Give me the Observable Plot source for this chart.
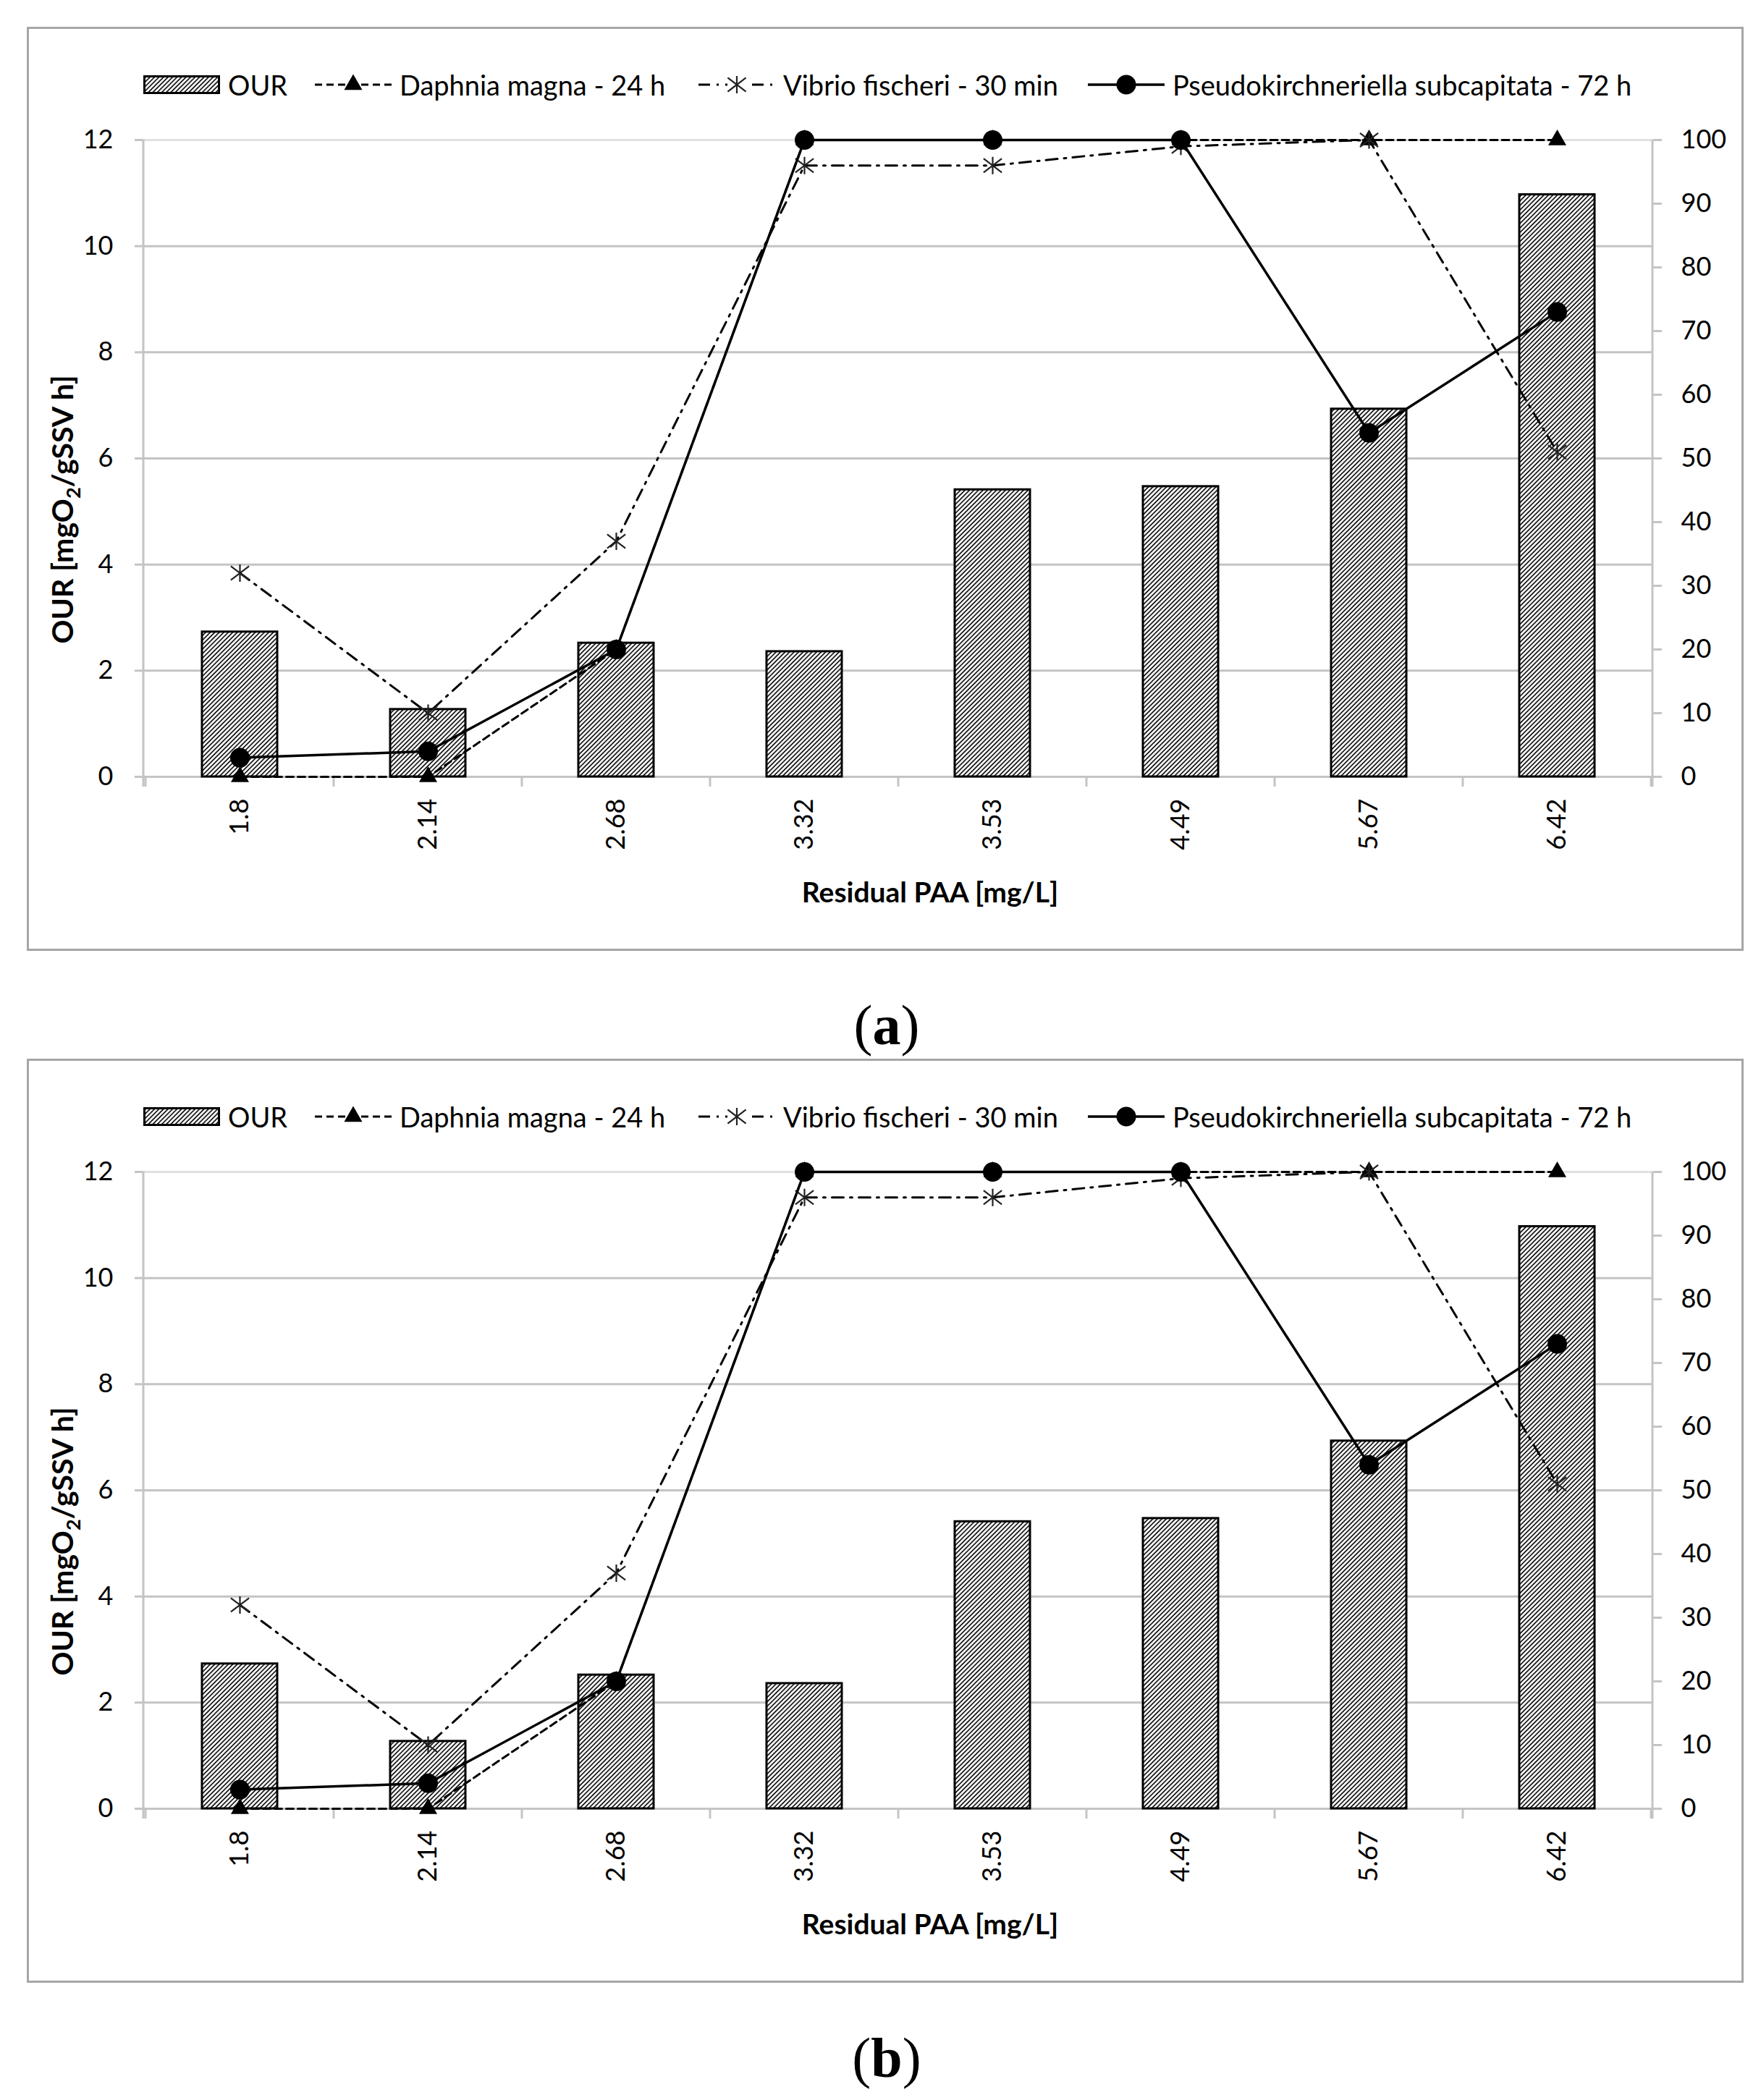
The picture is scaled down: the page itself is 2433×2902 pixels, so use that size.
<!DOCTYPE html>
<html>
<head>
<meta charset="utf-8">
<script src="https://cdn.jsdelivr.net/npm/d3@7"></script>
<script src="https://cdn.jsdelivr.net/npm/@observablehq/plot@0.6"></script>
<style>
html, body { margin: 0; padding: 0; background: #fff; }
body { width: 2433px; height: 2902px; position: relative; overflow: hidden; font-family: Lato, "Open Sans", sans-serif; color: #000; }
.panel { position: absolute; left: 37px; width: 2372px; height: 1277px; }
.frame { position: absolute; left: 0; top: 0; width: 2372px; height: 1277px; box-sizing: border-box; border: 3px solid #a6a6a6; pointer-events: none; }
.chart { position: absolute; left: 0; top: 0; }
.item { position: absolute; top: 60px; height: 40px; display: flex; align-items: center; font-size: 38px; white-space: nowrap; }
.item svg { flex: none; overflow: visible; }
.item span { margin-left: 11px; }
.ytitle { position: absolute; left: 52px; top: 667px; transform: translate(-50%, -50%) rotate(-90deg); font-weight: 700; font-size: 41px; white-space: nowrap; }
.ytitle sub { font-size: 27px; }
.xtitle { position: absolute; left: 1248px; top: 1195px; transform: translate(-50%, -50%); font-weight: 700; font-size: 39px; white-space: nowrap; }
.caption { position: absolute; left: 1225px; transform: translate(-50%, -50%); font-family: "Liberation Serif", "DejaVu Serif", serif; font-size: 78px; white-space: nowrap; }
</style>
</head>
<body>
<svg width="0" height="0" style="position:absolute">
  <defs>
    <pattern id="hatch" patternUnits="userSpaceOnUse" width="4.4" height="4.4" patternTransform="rotate(45)">
      <rect width="4.4" height="4.4" fill="#fff"></rect>
      <line x1="1" y1="0" x2="1" y2="4.4" stroke="#000" stroke-width="1.6"></line>
    </pattern>
  </defs>
</svg>
<script>
// ---- data ----
const categories = ["1.8", "2.14", "2.68", "3.32", "3.53", "4.49", "5.67", "6.42"];
const ourValues = [2.73, 1.27, 2.52, 2.36, 5.41, 5.47, 6.93, 10.97];
const daphnia = [0, 0, 20, 100, 100, 100, 100, 100];
const vibrio = [32, 10, 37, 96, 96, 99, 100, 51];
const pseudo = [3, 4, 20, 100, 100, 100, 54, 73];
const leftTicks = [0, 2, 4, 6, 8, 10, 12];
const rightTicks = [0, 10, 20, 30, 40, 50, 60, 70, 80, 90, 100];
const OUR_MAX = 12, PCT_MAX = 100;
const seriesNames = ["OUR", "Daphnia magna - 24 h", "Vibrio fischeri - 30 min", "Pseudokirchneriella subcapitata - 72 h"];
const panelLabels = ["a", "b"];

const pct = v => v * OUR_MAX / PCT_MAX;
const rows = categories.map((c, i) => ({cat: c, our: ourValues[i], daphnia: daphnia[i], vibrio: vibrio[i], pseudo: pseudo[i]}));

const asterisk = {
  draw(ctx, size) {
    const r = Math.sqrt(size / Math.PI), a = r * 1.05, b = r * 0.8;
    ctx.moveTo(0, -r); ctx.lineTo(0, r);
    ctx.moveTo(-a, -b); ctx.lineTo(a, b);
    ctx.moveTo(-a, b); ctx.lineTo(a, -b);
  }
};

const GRID = "#c4c4c4";

function axisLines(index, scales, values, dimensions) {
  const {x, y} = scales;
  const {width, marginLeft, marginRight} = dimensions;
  const step = x.step(), bw = x.bandwidth();
  const bounds = categories.map(c => x(c) - (step - bw) / 2);
  bounds.push(bounds[bounds.length - 1] + step);
  const g = d3.create("svg:g").attr("stroke", GRID).attr("stroke-width", 3);
  const y0 = y(0), yTop = y(OUR_MAX), tick = 14;
  for (const b of bounds) g.append("line").attr("x1", b).attr("x2", b).attr("y1", y0).attr("y2", y0 + tick);
  g.append("line").attr("x1", marginLeft).attr("x2", marginLeft).attr("y1", yTop).attr("y2", y0 + tick);
  g.append("line").attr("x1", width - marginRight).attr("x2", width - marginRight).attr("y1", yTop).attr("y2", y0 + tick);
  return g.node();
}

function makeChart() {
  return Plot.plot({
    width: 2372, height: 1277,
    marginLeft: 161, marginRight: 126, marginTop: 156, marginBottom: 241,
    style: {fontFamily: "Lato, 'Open Sans', sans-serif", fontSize: "35px", background: "transparent", color: "#000", overflow: "visible"},
    x: {domain: categories, paddingInner: 0.6, paddingOuter: 0.3, axis: null},
    y: {domain: [0, OUR_MAX], axis: null},
    marks: [
      Plot.ruleY(leftTicks.filter(d => d < OUR_MAX), {stroke: GRID, strokeWidth: 3}),
      Plot.ruleY([OUR_MAX], {stroke: "#e0e0e0", strokeWidth: 3}),
      Plot.barY(rows, {x: "cat", y: "our", fill: "url(#hatch)", stroke: "#000", strokeWidth: 3}),
      axisLines,
      Plot.axisY({anchor: "left", ticks: leftTicks, tickSize: 12, tickPadding: 30, stroke: GRID, strokeWidth: 3, fill: "#000", fontSize: 36, label: null}),
      Plot.axisY({anchor: "right", ticks: rightTicks.map(pct), tickFormat: d => String(Math.round(d * PCT_MAX / OUR_MAX)), tickSize: 12, tickPadding: 27, stroke: GRID, strokeWidth: 3, fill: "#000", fontSize: 36, label: null}),
      Plot.axisX({anchor: "bottom", tickSize: 0, tickRotate: -90, tickPadding: 30, fill: "#000", fontSize: 36, label: null}),
      Plot.line(rows, {x: "cat", y: d => pct(d.daphnia), stroke: "#000", strokeWidth: 3, strokeDasharray: "10,6"}),
      Plot.dot(rows, {x: "cat", y: d => pct(d.daphnia), symbol: "triangle", r: 9.3, fill: "#000"}),
      Plot.line(rows, {x: "cat", y: d => pct(d.vibrio), stroke: "#000", strokeWidth: 3, strokeDasharray: "16,9,3,9"}),
      Plot.dot(rows, {x: "cat", y: d => pct(d.vibrio), symbol: asterisk, r: 12, stroke: "#222", strokeWidth: 2.2, fill: "none"}),
      Plot.line(rows, {x: "cat", y: d => pct(d.pseudo), stroke: "#000", strokeWidth: 3.5}),
      Plot.dot(rows, {x: "cat", y: d => pct(d.pseudo), r: 13.5, fill: "#000"})
    ]
  });
}

function legendSymbol(kind) {
  const svg = d3.create("svg").attr("width", 106).attr("height", 30);
  const cy = 15;
  if (kind === 0) {
    svg.append("rect").attr("x", 1.5).attr("y", 3.5).attr("width", 103).attr("height", 23)
      .attr("fill", "url(#hatch)").attr("stroke", "#000").attr("stroke-width", 3);
    return svg.node();
  }
  const dash = kind === 1 ? "10,6" : kind === 2 ? "16,9,3,9" : null;
  const ln = svg.append("line").attr("x1", 0).attr("x2", 106).attr("y1", cy).attr("y2", cy)
    .attr("stroke", "#000").attr("stroke-width", kind === 3 ? 3.5 : 3);
  if (dash) ln.attr("stroke-dasharray", dash);
  if (kind === 1) {
    svg.append("path").attr("transform", `translate(53,${cy})`).attr("d", d3.symbol(d3.symbolTriangle, 9.3 * 9.3 * Math.PI)()).attr("fill", "#000");
  } else if (kind === 2) {
    svg.append("rect").attr("x", 40).attr("y", cy - 14).attr("width", 26).attr("height", 28).attr("fill", "#fff");
    svg.append("path").attr("transform", `translate(53,${cy})`).attr("d", d3.symbol(asterisk, 12 * 12 * Math.PI)()).attr("fill", "none").attr("stroke", "#222").attr("stroke-width", 2.2);
  } else {
    svg.append("circle").attr("cx", 53).attr("cy", cy).attr("r", 13.5).attr("fill", "#000");
  }
  return svg.node();
}

const legendX = [161, 398, 928, 1466];
const panelTops = [37, 1463];
const captionY = [1417, 2844];

panelLabels.forEach((lab, p) => {
  const panel = document.createElement("div");
  panel.className = "panel";
  panel.style.top = panelTops[p] + "px";
  const chartWrap = document.createElement("div");
  chartWrap.className = "chart";
  chartWrap.appendChild(makeChart());
  panel.appendChild(chartWrap);

  seriesNames.forEach((name, k) => {
    const item = document.createElement("div");
    item.className = "item";
    item.style.left = legendX[k] + "px";
    item.appendChild(legendSymbol(k));
    const sp = document.createElement("span");
    sp.textContent = name;
    item.appendChild(sp);
    panel.appendChild(item);
  });

  const yt = document.createElement("div");
  yt.className = "ytitle";
  yt.innerHTML = "OUR [mgO<sub>2</sub>/gSSV h]";
  panel.appendChild(yt);

  const xt = document.createElement("div");
  xt.className = "xtitle";
  xt.textContent = "Residual PAA [mg/L]";
  panel.appendChild(xt);

  const fr = document.createElement("div");
  fr.className = "frame";
  panel.appendChild(fr);
  document.body.appendChild(panel);

  const cap = document.createElement("div");
  cap.className = "caption";
  cap.style.top = captionY[p] + "px";
  cap.innerHTML = "(<b>" + lab + "</b>)";
  document.body.appendChild(cap);
});
</script>
</body>
</html>
